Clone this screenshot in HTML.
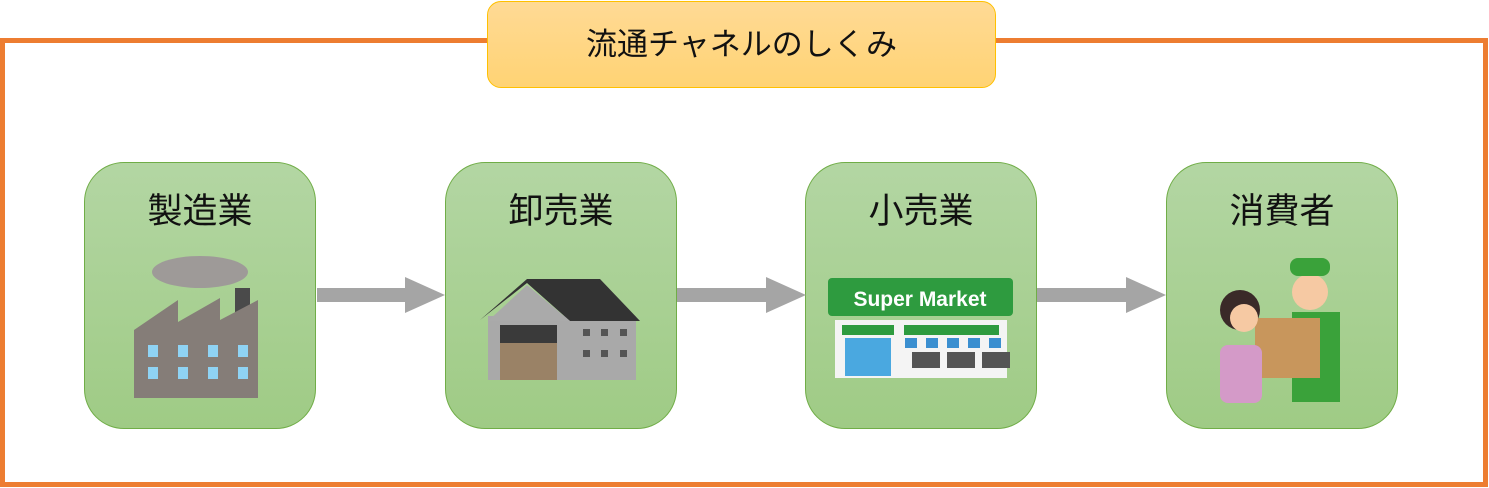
<!DOCTYPE html>
<html><head><meta charset="utf-8"><style>
body{margin:0;width:1489px;height:488px;background:#fff;position:relative;overflow:hidden;font-family:"Liberation Sans","Noto Sans CJK JP",sans-serif}
.frame{position:absolute;left:0;top:38px;width:1478px;height:439px;border:5px solid #ED7D31}
.title{position:absolute;left:487px;top:1px;width:507px;height:85px;border:1px solid #FFC000;border-radius:14px;background:linear-gradient(#FFDA95,#FFD374);text-align:center;line-height:86px;font-size:31px;color:#111}
.box{position:absolute;top:162px;width:230px;height:265px;border:1px solid #70AD47;border-radius:40px;background:linear-gradient(#B3D6A3,#9FCB85);text-align:center}
.box span{display:block;margin-top:20px;font-size:35px;color:#111}
svg.a{position:absolute}
</style></head><body>
<div class="frame"></div>
<div class="title">流通チャネルのしくみ</div>
<div class="box" style="left:84px"><span>製造業</span></div>
<div class="box" style="left:445px"><span>卸売業</span></div>
<div class="box" style="left:805px"><span>小売業</span></div>
<div class="box" style="left:1166px"><span>消費者</span></div>
<svg class="a" width="1489" height="488" style="left:0;top:0">
<g fill="#A5A5A5">
<polygon points="317,288 405,288 405,277 445,295 405,313 405,302 317,302"/>
<polygon points="677,288 766,288 766,277 806,295 766,313 766,302 677,302"/>
<polygon points="1037,288 1126,288 1126,277 1166,295 1126,313 1126,302 1037,302"/>
</g>
<ellipse cx="200" cy="272" rx="48" ry="16" fill="#9e9a98"/>
<rect x="235" y="288" width="15" height="30" fill="#4a4a4a"/>
<polygon points="134,330 178,300 178,322 220,298 220,320 258,300 258,398 134,398" fill="#857d78"/>
<g fill="#8fd3f4"><rect x="148" y="345" width="10" height="12"/><rect x="178" y="345" width="10" height="12"/><rect x="208" y="345" width="10" height="12"/><rect x="238" y="345" width="10" height="12"/><rect x="148" y="367" width="10" height="12"/><rect x="178" y="367" width="10" height="12"/><rect x="208" y="367" width="10" height="12"/><rect x="238" y="367" width="10" height="12"/></g>
<rect x="488" y="316" width="148" height="64" fill="#a9a9a9"/>
<polygon points="480,320 527,279 600,279 640,321 570,321 527,283" fill="#333"/>
<polygon points="488,321 527,285 570,321" fill="#aaa"/>
<rect x="500" y="325" width="57" height="55" fill="#9a8266"/>
<rect x="500" y="325" width="57" height="18" fill="#3a3a3a"/>
<g fill="#555"><rect x="583" y="329" width="7" height="7"/><rect x="601" y="329" width="7" height="7"/><rect x="620" y="329" width="7" height="7"/><rect x="583" y="350" width="7" height="7"/><rect x="601" y="350" width="7" height="7"/><rect x="620" y="350" width="7" height="7"/></g>
<rect x="828" y="278" width="185" height="38" rx="4" fill="#2e9b3f"/>
<text x="920" y="306" text-anchor="middle" font-size="21" font-weight="bold" fill="#fff" font-family="Liberation Sans">Super Market</text>
<rect x="835" y="320" width="172" height="58" fill="#f4f4f4"/>
<rect x="842" y="325" width="52" height="10" fill="#2e9b3f"/>
<rect x="904" y="325" width="95" height="10" fill="#2e9b3f"/>
<rect x="845" y="338" width="46" height="38" fill="#4aa8e0"/>
<g fill="#3b8fd0"><rect x="905" y="338" width="12" height="10"/><rect x="926" y="338" width="12" height="10"/><rect x="947" y="338" width="12" height="10"/><rect x="968" y="338" width="12" height="10"/><rect x="989" y="338" width="12" height="10"/></g>
<g fill="#555"><rect x="912" y="352" width="28" height="16"/><rect x="947" y="352" width="28" height="16"/><rect x="982" y="352" width="28" height="16"/></g>
<circle cx="1310" cy="292" r="18" fill="#f6c9a3"/>
<rect x="1290" y="258" width="40" height="18" rx="8" fill="#3aa23a"/>
<rect x="1292" y="312" width="48" height="90" fill="#3aa23a"/>
<rect x="1255" y="318" width="65" height="60" fill="#c8965c"/>
<circle cx="1240" cy="310" r="20" fill="#3a2a28"/>
<circle cx="1244" cy="318" r="14" fill="#f6c9a3"/>
<rect x="1220" y="345" width="42" height="58" rx="8" fill="#d49ac8"/>
</svg>
</body></html>
